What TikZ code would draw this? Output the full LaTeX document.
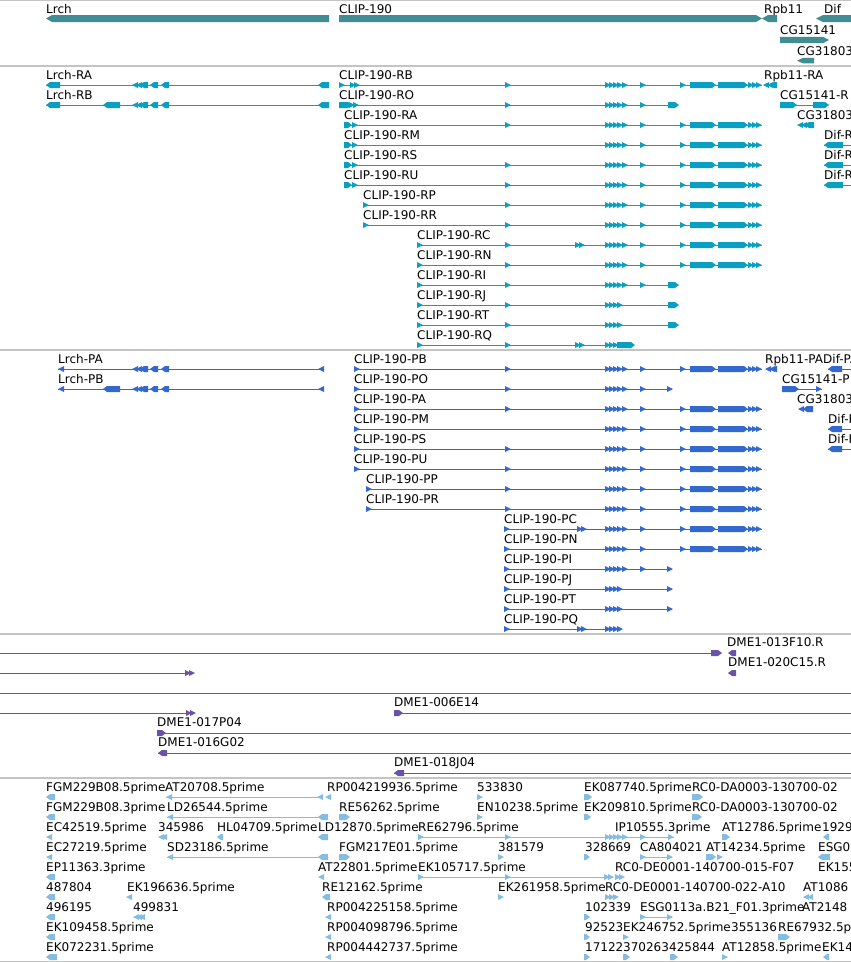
\documentclass[tikz,border=0pt]{standalone}
\usepackage{fontspec}
\setmainfont{DejaVu Sans}
\definecolor{gene}{HTML}{408E93}
\definecolor{tx}{HTML}{0A9EC2}
\definecolor{prot}{HTML}{3369CF}
\definecolor{clone}{HTML}{6A52A8}
\definecolor{est}{HTML}{84BCE2}
\definecolor{sep}{HTML}{C4C4C4}
\newcommand\lblfont{\fontsize{12}{14}\selectfont}
\tikzset{lbl/.style={anchor=base west, inner sep=0pt, text=black, font=\lblfont},
  sepline/.style={draw=sep, line width=1.3pt}}
\newcommand\gAR[2]{\fill (#1,#2-3) -- (#1+6,#2) -- (#1,#2+3) -- cycle;}
\newcommand\gAL[2]{\fill (#1+6,#2-3) -- (#1,#2) -- (#1+6,#2+3) -- cycle;}
\newcommand\gBR[3]{\fill (#1,#3-3) -- (#2-4,#3-3) -- (#2,#3) -- (#2-4,#3+3) -- (#1,#3+3) -- cycle;}
\newcommand\gBL[3]{\fill (#2,#3-3) -- (#1+4,#3-3) -- (#1,#3) -- (#1+4,#3+3) -- (#2,#3+3) -- cycle;}
\newcommand\gLN[3]{\draw[line width=1pt] (#1,#3) -- (#2,#3);}
\newcommand\gLB[3]{\node[lbl] at (#1,#2) {#3};}
\newcommand\gCl[1]{\gAR{605}{#1}\gAR{609}{#1}\gAR{613}{#1}\gAR{617}{#1}\gAR{622}{#1}}
\newcommand\gClf[1]{\gAR{605}{#1}\gAR{609}{#1}\gAR{613}{#1}\gAR{617}{#1}}
\newcommand\gTail[1]{\gAR{640}{#1}\gAR{680}{#1}\gBR{690}{716}{#1}\gBR{718}{748}{#1}\gAR{748}{#1}\gAR{752}{#1}\gAR{756}{#1}}
\newcommand\gLrch[2]{\gAL{132}{#1}\gAL{136}{#1}\gBL{140}{148}{#1}\gBL{150}{158}{#1}\gBL{161}{169}{#1}}
\begin{document}
\begin{tikzpicture}[x=1pt,y=-1pt]
\useasboundingbox (0,0) rectangle (851,962);
\clip (0,0) rectangle (851,962);
\fill[white] (0,0) rectangle (851,962);
% separators
\foreach \s in {0.7,66,350,634,778,961.3} {\draw[sepline] (0,\s) -- (851,\s);}

% ---------------- gene track
\begin{scope}[color=gene]
\gLB{46}{13}{Lrch}
\fill (46,18.5) -- (52,15) -- (329,15) -- (329,22) -- (52,22) -- cycle;
\gLB{339}{13}{CLIP-190}
\fill (339,15) -- (756,15) -- (762,18.5) -- (756,22) -- (339,22) -- cycle;
\gLB{764}{13}{Rpb11}
\fill (762,18.5) -- (768,15) -- (777,15) -- (777,22) -- (768,22) -- cycle;
\gLB{824}{13}{Dif}
\fill (816,18.5) -- (823,15) -- (851,15) -- (851,22) -- (823,22) -- cycle;
\gLB{780}{34}{CG15141}
\fill (780,36.8) -- (823,36.8) -- (829,40) -- (823,43.2) -- (780,43.2) -- cycle;
\gLB{797}{55}{CG31803}
\fill (797,60.8) -- (803,57.8) -- (814,57.8) -- (814,63.3) -- (803,63.3) -- cycle;
\end{scope}

% ---------------- transcripts
\begin{scope}[color=tx]
% Lrch
\gLB{46}{79}{Lrch-RA} \gLN{46}{329}{85} \gBL{46}{60}{85} \gLrch{85}{} \gBL{318}{329}{85}
\gLB{46}{99}{Lrch-RB} \gLN{46}{329}{105} \gBL{46}{60}{105} \gBL{103}{120}{105} \gLrch{105}{} \gBL{318}{329}{105}
% CLIP-190
\gLB{339}{79}{CLIP-190-RB} \gLN{339}{762}{85} \gAR{339}{85}\gAR{350}{85}\gAR{354}{85}\gAR{505}{85}\gCl{85}\gTail{85}
\gLB{339}{99}{CLIP-190-RO} \gLN{339}{676}{105} \gBR{339}{352}{105}\gAR{349}{105}\gAR{353}{105}\gAR{505}{105}\gCl{105}\gAR{640}{105}\gBR{668}{679}{105}
\gLB{344}{119}{CLIP-190-RA} \gLN{344}{762}{125} \gBR{344}{352}{125}\gAR{352}{125}\gAR{505}{125}\gCl{125}\gTail{125}
\gLB{344}{139}{CLIP-190-RM} \gLN{344}{762}{145} \gBR{344}{352}{145}\gAR{352}{145}\gCl{145}\gTail{145}
\gLB{344}{159}{CLIP-190-RS} \gLN{344}{762}{165} \gBR{344}{352}{165}\gAR{352}{165}\gAR{505}{165}\gCl{165}\gTail{165}
\gLB{344}{179}{CLIP-190-RU} \gLN{344}{762}{185} \gBR{344}{352}{185}\gAR{352}{185}\gAR{505}{185}\gCl{185}\gTail{185}
\gLB{363}{199}{CLIP-190-RP} \gLN{363}{762}{205} \gAR{363}{205}\gAR{505}{205}\gCl{205}\gTail{205}
\gLB{363}{219}{CLIP-190-RR} \gLN{363}{762}{225} \gAR{363}{225}\gAR{505}{225}\gCl{225}\gTail{225}
\gLB{417}{239}{CLIP-190-RC} \gLN{417}{762}{245} \gAR{417}{245}\gAR{505}{245}\gAR{575}{245}\gAR{579}{245}\gCl{245}\gTail{245}
\gLB{417}{259}{CLIP-190-RN} \gLN{417}{762}{265} \gAR{417}{265}\gAR{505}{265}\gCl{265}\gTail{265}
\gLB{417}{279}{CLIP-190-RI} \gLN{417}{676}{285} \gAR{417}{285}\gAR{505}{285}\gCl{285}\gAR{640}{285}\gBR{668}{679}{285}
\gLB{417}{299}{CLIP-190-RJ} \gLN{417}{676}{305} \gAR{417}{305}\gAR{505}{305}\gClf{305}\gBR{668}{679}{305}
\gLB{417}{319}{CLIP-190-RT} \gLN{417}{676}{325} \gAR{417}{325}\gAR{505}{325}\gClf{325}\gBR{668}{679}{325}
\gLB{417}{339}{CLIP-190-RQ} \gLN{417}{634}{345} \gAR{417}{345}\gAR{505}{345}\gAR{575}{345}\gAR{579}{345}\gAR{605}{345}\gAR{609}{345}\gAR{613}{345}\gBR{617}{635}{345}
% right genes
\gLB{764}{79}{Rpb11-RA} \gAL{763}{85}\gAL{767}{85}\gBL{770}{777}{85}
\gLB{780}{99}{CG15141-R} \gLN{780}{828}{105} \gBR{780}{797}{105}\gBR{813}{829}{105}
\gLB{797}{119}{CG31803} \gAL{797}{125}\gAL{801}{125}\gBL{805}{814}{125}
\gLB{824}{139}{Dif-R} \gLN{824}{851}{145} \gBL{824}{843}{145}
\gLB{824}{159}{Dif-R} \gLN{824}{851}{165} \gBL{824}{843}{165}
\gLB{824}{179}{Dif-R} \gLN{824}{851}{185} \gBL{824}{843}{185}
\end{scope}

% ---------------- proteins
\begin{scope}[color=prot]
\gLB{58}{363}{Lrch-PA} \gLN{58}{323}{369} \gAL{58}{369} \gLrch{369}{} \gAL{318}{369}
\gLB{58}{383}{Lrch-PB} \gLN{58}{323}{389} \gAL{58}{389} \gBL{103}{120}{389} \gLrch{389}{} \gAL{318}{389}
\gLB{354}{363}{CLIP-190-PB} \gLN{354}{762}{369} \gAR{354}{369}\gAR{505}{369}\gCl{369}\gTail{369}
\gLB{354}{383}{CLIP-190-PO} \gLN{354}{672}{389} \gAR{354}{389}\gAR{505}{389}\gCl{389}\gAR{640}{389}\gAR{667}{389}
\gLB{354}{403}{CLIP-190-PA} \gLN{354}{762}{409} \gAR{354}{409}\gAR{505}{409}\gCl{409}\gTail{409}
\gLB{354}{423}{CLIP-190-PM} \gLN{354}{762}{429} \gAR{354}{429}\gCl{429}\gTail{429}
\gLB{354}{443}{CLIP-190-PS} \gLN{354}{762}{449} \gAR{354}{449}\gAR{505}{449}\gCl{449}\gTail{449}
\gLB{354}{463}{CLIP-190-PU} \gLN{354}{762}{469} \gAR{354}{469}\gAR{505}{469}\gCl{469}\gTail{469}
\gLB{366}{483}{CLIP-190-PP} \gLN{366}{762}{489} \gAR{366}{489}\gAR{505}{489}\gCl{489}\gTail{489}
\gLB{366}{503}{CLIP-190-PR} \gLN{366}{762}{509} \gAR{366}{509}\gAR{505}{509}\gCl{509}\gTail{509}
\gLB{504}{523}{CLIP-190-PC} \gLN{504}{762}{529} \gAR{504}{529}\gAR{577}{529}\gAR{581}{529}\gCl{529}\gTail{529}
\gLB{504}{543}{CLIP-190-PN} \gLN{504}{762}{549} \gAR{504}{549}\gCl{549}\gTail{549}
\gLB{504}{563}{CLIP-190-PI} \gLN{504}{672}{569} \gAR{504}{569}\gCl{569}\gAR{640}{569}\gAR{667}{569}
\gLB{504}{583}{CLIP-190-PJ} \gLN{504}{672}{589} \gAR{504}{589}\gClf{589}\gAR{667}{589}
\gLB{504}{603}{CLIP-190-PT} \gLN{504}{672}{609} \gAR{504}{609}\gClf{609}\gAR{667}{609}
\gLB{504}{623}{CLIP-190-PQ} \gLN{504}{620}{629} \gAR{504}{629}\gAR{577}{629}\gAR{581}{629}\gClf{629}
% right genes
\gLB{765}{363}{Rpb11-PA} \gAL{765}{369}\gAL{769}{369}\gBL{772}{777}{369}
\gLB{823}{363}{Dif-PA} \gLN{828}{851}{369} \gBL{828}{842}{369}
\gLB{782}{383}{CG15141-P} \gLN{782}{822}{389} \gBR{782}{799}{389}\gAR{816}{389}
\gLB{797}{403}{CG31803} \gAL{798}{409}\gBL{803}{813}{409}
\gLB{828}{423}{Dif-P} \gLN{828}{851}{429} \gBL{828}{842}{429}
\gLB{828}{443}{Dif-P} \gLN{828}{851}{449} \gBL{828}{842}{449}
\end{scope}

% ---------------- clones
\begin{scope}[color=clone]
\gLN{0}{718}{653} \gBR{711}{722}{653}
\gLB{727}{646}{DME1-013F10.R} \gBL{728}{736}{653}
\gLN{0}{190}{673} \gAR{185}{673}\gAR{189}{673}
\gLB{728}{666}{DME1-020C15.R} \gBL{728}{736}{673}
\gLN{0}{851}{693}
\gLN{0}{192}{713} \gAR{186}{713}\gAR{190}{713}
\gLB{394}{706}{DME1-006E14} \gLN{394}{851}{713} \gBR{394}{403}{713}
\gLB{157}{726}{DME1-017P04} \gLN{157}{851}{733} \gBR{157}{166}{733}
\gLB{158}{746}{DME1-016G02} \gLN{158}{851}{753} \gBL{158}{167}{753}
\gLB{394}{766}{DME1-018J04} \gLN{394}{851}{773} \gBL{394}{404}{773}
\end{scope}

% ---------------- ESTs
\begin{scope}[color=est]
% row 0
\gLB{46}{791}{FGM229B08.5prime} \gBL{46}{55}{797}
\gLB{165}{791}{AT20708.5prime} \gLN{166}{323}{797} \gAL{166}{797}\gAL{317}{797}
\gLB{327}{791}{RP004219936.5prime} \gAL{325}{797}
\gLB{477}{791}{533830} \gAR{477}{797}
\gLB{584}{791}{EK087740.5prime} \gBR{584}{592}{797}
\gLB{692}{791}{RC0-DA0003-130700-02} \gBR{692}{703}{797}
% row 1
\gLB{46}{811}{FGM229B08.3prime} \gBL{46}{55}{817}
\gLB{167}{811}{LD26544.5prime} \gLN{167}{328}{817} \gAL{167}{817}\gBL{318}{328}{817}
\gLB{339}{811}{RE56262.5prime} \gBR{339}{350}{817}
\gLB{477}{811}{EN10238.5prime} \gAR{477}{817}
\gLB{584}{811}{EK209810.5prime} \gBR{584}{591}{817}
\gLB{692}{811}{RC0-DA0003-130700-02} \gBR{692}{702}{817}
% row 2
\gLB{46}{831}{EC42519.5prime} \gAL{46}{837}
\gLB{158}{831}{345986} \gAL{158}{837}\gAL{161}{837}
\gLB{217}{831}{HL04709.5prime} \gBL{217}{223}{837}
\gLB{318}{831}{LD12870.5prime} \gBL{318}{328}{837}
\gLB{418}{831}{RE62796.5prime} \gLN{418}{674}{837} \gAR{418}{837}\gAR{505}{837}\gAR{605}{837}\gAR{609}{837}\gAR{613}{837}\gAR{617}{837}\gAR{622}{837}\gAR{640}{837}\gAR{668}{837}
\gLB{615}{831}{IP10555.3prime}
\gLB{722}{831}{AT12786.5prime} \gBR{722}{730}{837}
\gLB{822}{831}{1929} \gBL{823}{829}{837}
% row 3
\gLB{46}{851}{EC27219.5prime} \gAL{46}{857}
\gLB{167}{851}{SD23186.5prime} \gLN{167}{328}{857} \gAL{167}{857}\gBL{318}{328}{857}
\gLB{339}{851}{FGM217E01.5prime} \gBR{339}{350}{857}
\gLB{498}{851}{381579} \gAR{498}{857}
\gLB{585}{851}{328669} \gBR{584}{590}{857}
\gLB{640}{851}{CA804021} \gLN{640}{672}{857} \gAR{640}{857}\gAR{667}{857}
\gLB{706}{851}{AT14234.5prime} \gBR{706}{716}{857}\gAR{717}{857}
\gLB{818}{851}{ESG01} \gBL{818}{830}{857}
% row 4
\gLB{46}{871}{EP11363.3prime} \gBL{46}{55}{877}
\gLB{318}{871}{AT22801.5prime} \gAL{318}{877}
\gLB{418}{871}{EK105717.5prime} \gLN{418}{613}{877} \gAR{418}{877}\gAR{505}{877}\gAR{604}{877}\gAR{608}{877}
\gLB{615}{871}{RC0-DE0001-140700-015-F07} \gAR{615}{877}\gAR{619}{877}
\gLB{818}{871}{EK155}
% row 5
\gLB{46}{891}{487804} \gBL{46}{55}{897}
\gLB{127}{891}{EK196636.5prime} \gAL{126}{897}
\gLB{322}{891}{RE12162.5prime} \gBL{322}{330}{897}
\gLB{498}{891}{EK261958.5prime} \gAR{498}{897}
\gLB{605}{891}{RC0-DE0001-140700-022-A10} \gAR{605}{897}\gAR{609}{897}\gAR{613}{897}
\gLB{803}{891}{AT1086} \gAL{803}{897}\gAL{807}{897}
% row 6
\gLB{46}{911}{496195} \gBL{46}{55}{917}
\gLB{133}{911}{499831} \gAL{133}{917}\gAL{136}{917}\gAL{139}{917}
\gLB{327}{911}{RP004225158.5prime} \gAL{325}{917}
\gLB{585}{911}{102339} \gBR{584}{590}{917}
\gLB{640}{911}{ESG0113a.B21\_F01.3prime} \gLN{640}{672}{917} \gAR{640}{917}\gAR{667}{917}
\gLB{802}{911}{AT2148}
% row 7
\gLB{46}{931}{EK109458.5prime} \gBL{46}{55}{937}
\gLB{327}{931}{RP004098796.5prime} \gAL{325}{937}
\gLB{585}{931}{92523} \gBR{584}{590}{937}
\gLB{623}{931}{EK246752.5prime} \gAR{623}{937}
\gLB{731}{931}{355136}
\gLB{778}{931}{RE67932.5p} \gBR{778}{790}{937}
% row 8
\gLB{46}{951}{EK072231.5prime} \gBL{46}{57}{957}
\gLB{327}{951}{RP004442737.5prime} \gAL{325}{957}
\gLB{585}{951}{17122} \gBR{584}{590}{957}
\gLB{623}{951}{370263} \gBR{623}{630}{957}
\gLB{669}{951}{425844} \gBR{670}{678}{957}
\gLB{722}{951}{AT12858.5prime} \gAR{722}{957}
\gLB{822}{951}{EK14} \gBL{823}{829}{957}
\end{scope}
\end{tikzpicture}
\end{document}
